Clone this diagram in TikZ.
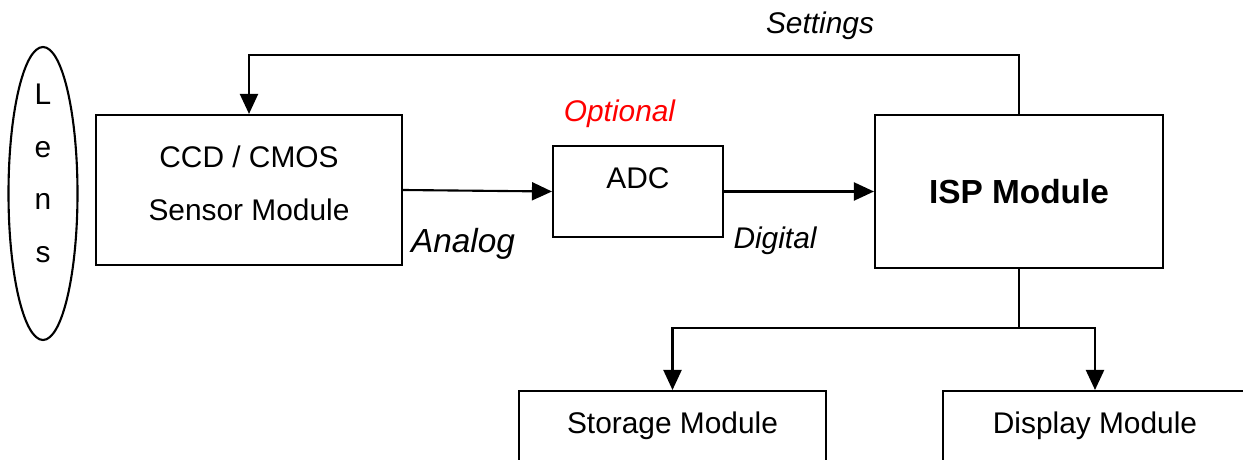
\documentclass[tikz,border=0pt]{standalone}
\usepackage{fontspec}
\setmainfont{Liberation Sans}
\usetikzlibrary{shapes, arrows.meta, positioning}

\begin{document}
\begin{tikzpicture}[>={Triangle[length=0.4cm, width=0.36cm]}, line width=1.2pt,
                    block/.style={draw, rectangle, inner sep=0pt},
                    txt/.style={font=\fontsize{17}{30}\selectfont},
                    sig/.style={font=\fontsize{17}{20}\selectfont\itshape}]
                        \useasboundingbox (0,0) rectangle (24.86,9.18);
                        \clip (0,0) rectangle (24.86,9.18);

                        \node [ellipse, draw, inner sep=0pt, minimum width=1.38cm, minimum height=5.86cm] (lens) at (0.86, 5.31) {};
                        \node [txt, align=center] (lensText) at (0.86, 5.71) {L\\e\\n\\s};

                        \node [block, minimum width=6.12cm, minimum height=3cm] (sensor) at (4.98, 5.38) {};
                        \node [txt, align=center] (sensorText) at (4.98, 5.51) {CCD / CMOS\\Sensor Module};
                        \node [block, minimum width=3.4cm, minimum height=1.82cm] (adc) at (12.76, 5.35) {};
                        \node [txt] (adcText) at (12.76, 5.62) {ADC};
                        \node [block, minimum width=5.76cm, minimum height=3.06cm] (isp) at (20.38, 5.35) {};
                        \node [font=\fontsize{19}{22}\selectfont\bfseries] (ispText) at (20.38, 5.34) {ISP Module};
                        \node [block, anchor=north, minimum width=6.14cm, minimum height=2cm] (storage) at (13.45, 1.38) {};
                        \node [txt] (storageText) at (13.45, 0.66) {Storage Module};
                        \node [block, anchor=north, minimum width=6.08cm, minimum height=2cm] (display) at (21.9, 1.38) {};
                        \node [txt] (displayText) at (21.9, 0.66) {Display Module};

                        \coordinate (setTop) at (20.38, 8.08);
                        \coordinate (split) at (20.38, 2.62);

                        \draw [->] (sensor.east) -- (adc.west);
                        \draw [->] (adc.east) -- (isp.west);
                        \draw [->] (isp.north) -- (setTop) -| (sensor.north);
                        \draw (isp.south) -- (split);
                        \draw [->] (split) -| (storage.north);
                        \draw [->] (split) -| (display.north);

                        \node [sig, font=\fontsize{19}{22}\selectfont\itshape] (analog) at (9.26, 4.3) {Analog};
                        \node [sig] (digital) at (15.5, 4.36) {Digital};
                        \node [sig, text=red] (optional) at (12.39, 6.9) {Optional};
                        \node [sig] (settings) at (16.4, 8.66) {Settings};
                    \end{tikzpicture}
\end{document}
